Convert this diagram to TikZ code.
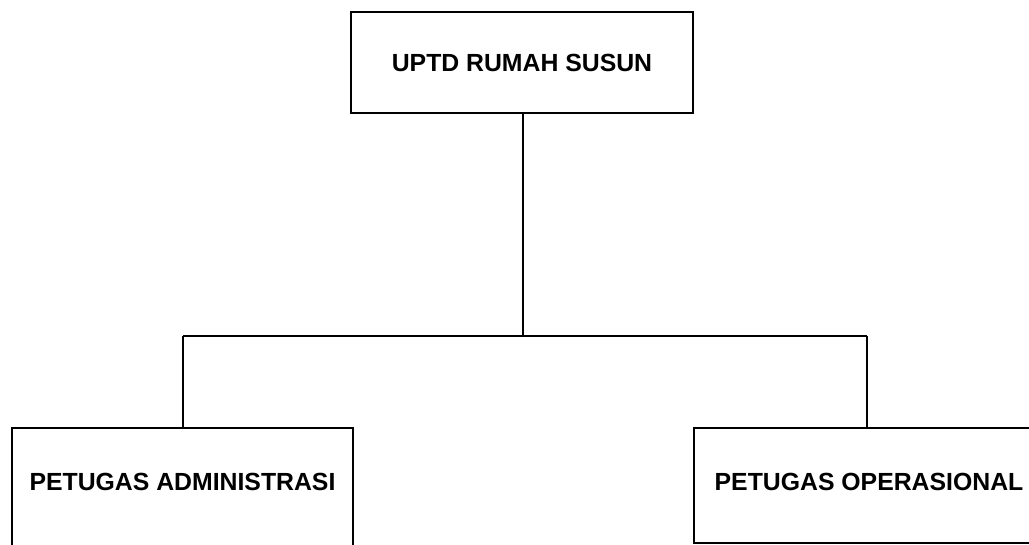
\documentclass[tikz,border=0pt]{standalone}
\usepackage{fontspec}
\setmainfont{Liberation Sans}
\begin{document}
\begin{tikzpicture}[x=1pt,y=-1pt,
  orgbox/.style={draw=black, line width=2.2pt, rectangle, inner sep=0pt,
    font=\fontsize{24.8}{28}\selectfont\bfseries, text=black},
  conn/.style={draw=black, line width=2.6pt}]
\useasboundingbox (0,0) rectangle (1029,544);
\fill[white] (0,0) rectangle (1029,544);
\node[orgbox, minimum width=342pt, minimum height=101pt] (top) at (522,62.5) {UPTD RUMAH SUSUN};
\node[orgbox, minimum width=341pt, minimum height=120pt, text depth=12pt] (left) at (182.5,488) {PETUGAS ADMINISTRASI};
\node[orgbox, minimum width=350pt, minimum height=115pt, text depth=8pt] (right) at (869,485.5) {PETUGAS OPERASIONAL};
\coordinate (mid) at (523,336);
\coordinate (lj) at (183,336);
\coordinate (rj) at (867,336);
\draw[conn] (top.south -| mid) -- (mid);
\draw[conn] (lj) -- (rj);
\draw[conn] (lj) -- (lj |- left.north);
\draw[conn] (rj) -- (rj |- right.north);
\end{tikzpicture}
\end{document}
